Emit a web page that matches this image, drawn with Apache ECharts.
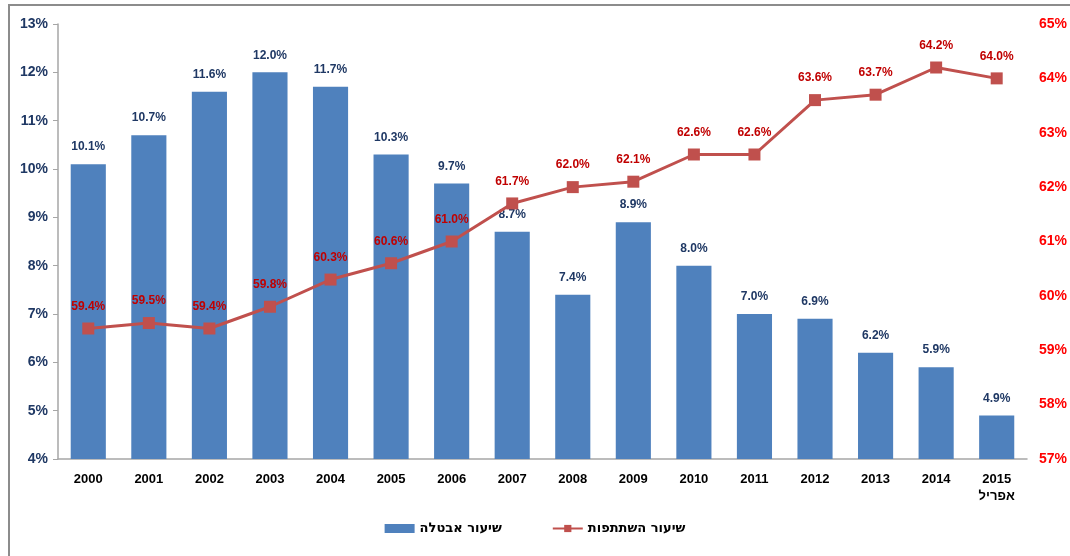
<!DOCTYPE html>
<html>
<head>
<meta charset="utf-8">
<script src="https://cdn.jsdelivr.net/npm/echarts@6/dist/echarts.min.js"></script>
<style>
  html, body { margin: 0; padding: 0; background: #fff; }
  #frame {
    position: absolute; left: 8px; top: 4px; width: 1070px; height: 560px;
    border-left: 2px solid #8c8c8c; border-top: 2px solid #8c8c8c;
  }
  #chart { position: absolute; left: 0; top: 0; width: 1070px; height: 556px; }
</style>
</head>
<body>
<div id="frame"></div>
<div id="chart"></div>
<script>
// שנים
const years = ["2000", "2001", "2002", "2003", "2004", "2005", "2006", "2007",
  "2008", "2009", "2010", "2011", "2012", "2013", "2014", "2015\nאפריל"];
// שיעור אבטלה (%)
const unemployment = [10.1, 10.7, 11.6, 12.0, 11.7, 10.3, 9.7, 8.7,
  7.4, 8.9, 8.0, 7.0, 6.9, 6.2, 5.9, 4.9];
// שיעור השתתפות (%)
const participation = [59.4, 59.5, 59.4, 59.8, 60.3, 60.6, 61.0, 61.7,
  62.0, 62.1, 62.6, 62.6, 63.6, 63.7, 64.2, 64.0];

const font = "Liberation Sans";
const chart = echarts.init(document.getElementById("chart"));

const option = {
  animation: false,
  grid: { left: 58, right: 42, top: 24, bottom: 97 },
  legend: {
    bottom: 16,
    left: "center",
    itemWidth: 30,
    itemHeight: 9,
    itemGap: 50,
    data: [
      { name: "שיעור אבטלה", icon: "rect" },
      { name: "שיעור השתתפות" }
    ],
    textStyle: { fontFamily: "DejaVu Sans", fontWeight: "bold", fontSize: 13, color: "#000" }
  },
  xAxis: {
    type: "category",
    data: years,
    axisLine: { lineStyle: { color: "#a6a6a6", width: 1.5 } },
    axisTick: { show: false },
    axisLabel: {
      margin: 12,
      fontFamily: font, fontWeight: "bold", fontSize: 13, color: "#000", lineHeight: 17
    }
  },
  yAxis: [
    {
      type: "value",
      min: 4, max: 13, interval: 1,
      splitLine: { show: false },
      axisLine: { show: true, lineStyle: { color: "#a6a6a6", width: 1.5 } },
      axisTick: { show: true, length: 5, lineStyle: { color: "#a6a6a6" } },
      axisLabel: {
        margin: 10,
        formatter: "{value}%",
        fontFamily: font, fontWeight: "bold", fontSize: 14, color: "#1f3864"
      }
    },
    {
      type: "value",
      min: 57, max: 65, interval: 1,
      splitLine: { show: false },
      axisLine: { show: false },
      axisTick: { show: false },
      axisLabel: {
        margin: 12,
        formatter: "{value}%",
        fontFamily: font, fontWeight: "bold", fontSize: 14, color: "#ff0000"
      }
    }
  ],
  series: [
    {
      name: "שיעור אבטלה",
      type: "bar",
      yAxisIndex: 0,
      data: unemployment,
      barWidth: "58%",
      itemStyle: { color: "#4f81bd" },
      label: {
        show: true,
        position: "top",
        distance: 11,
        formatter: p => p.value.toFixed(1) + "%",
        fontFamily: font, fontWeight: "bold", fontSize: 12, color: "#1f3864"
      }
    },
    {
      name: "שיעור השתתפות",
      type: "line",
      yAxisIndex: 1,
      data: participation,
      symbol: "rect",
      symbolSize: 12,
      lineStyle: { color: "#c0504d", width: 3 },
      itemStyle: { color: "#c0504d" },
      label: {
        show: true,
        position: "top",
        distance: 10,
        formatter: p => p.value.toFixed(1) + "%",
        fontFamily: font, fontWeight: "bold", fontSize: 12, color: "#c00000"
      }
    }
  ]
};

chart.setOption(option);
</script>
</body>
</html>
